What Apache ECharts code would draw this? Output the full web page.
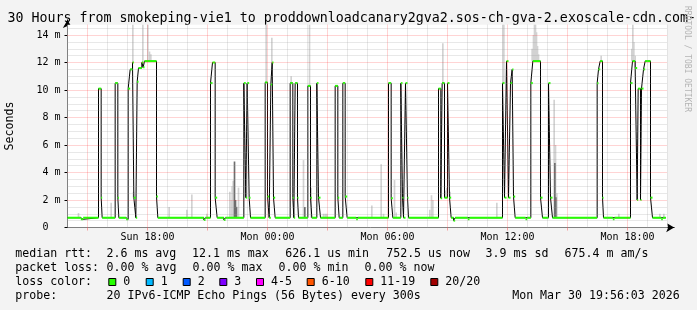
<!DOCTYPE html>
<html><head><meta charset="utf-8">
<script src="https://cdn.jsdelivr.net/npm/echarts@6/dist/echarts.min.js"></script>
<style>html,body{margin:0;padding:0;background:#f3f3f3}#c{width:697px;height:310px}</style>
</head><body><div id="c"></div>
<script>
// ---- DATA (x = minutes after Sun 14:00, y = milliseconds) ----
const xTickMinutes = [240, 600, 960, 1320, 1680];
const xTickLabels = ['Sun 18:00', 'Mon 00:00', 'Mon 06:00', 'Mon 12:00', 'Mon 18:00'];
const yTickValues = [0, 2, 4, 6, 8, 10, 12, 14];

// median rtt, step changes [minute, ms]
const medianSteps = [
  [0,0.71],[40,0.6],[47,0.71],
  [93,10.1],[101,2.17],[104,0.71],
  [143,10.5],[151,2.17],[154,0.71],
  [176,0.6],[182,10.1],[188,11.5],[195,12.0],[199,2.17],[205,0.71],[209,10.6],[213,11.6],[223,12.0],[227,11.65],[231,12.1],[267,2.25],[271,0.71],
  [409,0.55],[414,0.71],
  [429,10.5],[435,12.0],[443,2.17],[449,0.71],
  [469,0.55],[474,0.71],
  [529,10.5],[535,2.17],[539,10.5],[545,2.17],[549,0.71],
  [593,10.55],[600,2.25],[605,0.71],[610,10.4],[614,12.0],[618,2.17],[623,0.71],
  [668,10.5],[676,2.17],[679,0.71],[683,10.5],[690,2.17],[693,0.71],
  [721,10.3],[729,2.17],[733,0.71],
  [748,10.5],[753,2.17],[759,0.71],
  [803,10.3],[811,2.17],[815,0.71],
  [826,10.5],[833,2.25],[839,0.71],
  [866,0.6],[871,0.71],
  [963,10.5],[971,2.13],[976,0.71],
  [1000,10.5],[1005,2.17],[1008,0.71],[1014,10.5],[1020,2.17],[1023,0.71],
  [1113,10.1],[1120,2.13],[1124,10.5],[1131,2.17],[1140,10.5],[1146,2.17],[1151,0.71],
  [1158,0.5],[1163,0.71],
  [1201,0.6],[1206,0.71],
  [1305,10.5],[1311,2.17],[1317,12.1],[1323,2.17],[1329,10.5],[1334,11.5],[1338,2.25],[1343,0.71],
  [1374,0.6],[1379,0.71],
  [1390,10.5],[1396,12.1],[1419,2.17],[1425,0.71],
  [1443,10.5],[1449,2.17],[1455,0.71],
  [1589,10.5],[1593,11.5],[1598,12.1],[1605,2.17],[1608,0.71],
  [1636,0.6],[1641,0.71],
  [1689,10.5],[1695,12.1],[1703,11.6],[1709,2.0],[1712,10.1],[1719,2.0],[1722,10.1],[1728,11.5],[1733,12.1],[1749,2.17],[1755,0.71],
  [1781,0.6],[1786,0.71],[1795,0.71]
];

// smoke (ping spread) [minute, low ms, high ms]
const smokeLight = [
  [33,0.71,1.05],[131,0.71,1.8],
  [196,12.0,15.2],[198,2.17,2.6],[226,11.65,15.2],[241,12.1,15.2],[246,12.1,12.8],[250,12.1,12.6],
  [305,0.71,1.5],[358,0.71,1.3],[373,0.71,2.4],[418,0.71,1.0],
  [487,0.71,2.6],[491,0.71,2.0],[494,0.71,3.0],[497,0.71,3.4],[513,0.71,2.9],
  [596,10.55,15.2],[613,12.0,13.8],[671,10.5,11.0],
  [708,0.71,4.9],[726,10.3,15.2],[731,0.71,2.9],
  [768,0.71,1.0],[773,0.71,1.0],[778,0.71,1.0],
  [913,0.71,1.6],[941,0.71,4.6],[948,0.71,1.0],[981,0.71,3.45],[986,0.71,1.1],
  [1087,0.71,1.3],[1092,0.71,2.35],[1096,0.71,2.0],
  [1126,10.5,13.4],[1133,2.17,2.7],[1138,2.17,2.9],[1148,2.17,2.6],
  [1288,0.71,1.8],[1306,10.5,15.2],[1309,10.5,15.2],
  [1394,12.1,13.0],[1398,12.1,14.0],[1401,12.1,15.2],[1404,12.1,15.2],[1407,12.1,14.2],[1410,12.1,13.2],[1413,12.1,12.6],
  [1460,0.71,9.3],[1464,0.71,6.0],[1468,0.71,2.5],
  [1601,12.1,12.5],[1654,0.71,1.0],
  [1693,12.1,13.0],[1696,12.1,15.2],[1699,12.1,13.5],[1703,11.6,12.5],
  [1777,0.71,1.0],[1789,0.71,1.0]
];
const smokeDark = [
  [501,0.71,4.8],[504,0.71,2.0],[507,0.71,1.5],[712,0.71,1.5],[1462,0.71,4.7],[1465,0.71,2.2]
];

const lossLabels = ['0','1','2','3','4-5','6-10','11-19','20/20'];
const lossColors = ['#26ff00','#00b8ff','#0059ff','#7e00ff','#ff00ff','#ff5500','#ff0000','#a10000'];

const titleText = '30 Hours from smokeping-vie1 to proddownloadcanary2gva2.sos-ch-gva-2.exoscale-cdn.com-';
const rttStats = ['2.6 ms avg','12.1 ms max','626.1 us min','752.5 us now','3.9 ms sd','675.4 m am/s'];
const lossStats = ['0.00 % avg','0.00 % max','0.00 % min','0.00 % now'];
const probeText = '20 IPv6-ICMP Echo Pings (56 Bytes) every 300s';
const stampText = 'Mon Mar 30 19:56:03 2026';

// ---- LAYOUT / STYLE ----
const X_MAX = 1820, PLOT_END = 1800, Y_MAX = 15.1, PLOT_TOP = 14.75;
const MONO = '"DejaVu Sans Mono"';
const GRID_GRAY = 'rgba(150,150,150,0.45)';
const GRID_RED = 'rgba(255,40,40,0.4)';

const greenSegs = [];
for (let i = 0; i < medianSteps.length - 1; i++) {
  greenSegs.push([medianSteps[i][0], medianSteps[i + 1][0], medianSteps[i][1]]);
}

const gridLines = [];
for (let m = 60; m <= PLOT_END; m += 60) {
  gridLines.push([{coord: [m, 0], lineStyle: {color: (m % 180 === 60) ? GRID_RED : GRID_GRAY, type: 'dotted', width: 1}}, {coord: [m, PLOT_TOP]}]);
}
for (let k = 1; k <= 29; k++) {
  const v = k * 0.5;
  gridLines.push([{coord: [0, v], lineStyle: {color: (k % 4 === 0) ? GRID_RED : GRID_GRAY, type: 'dotted', width: 1}}, {coord: [PLOT_END, v]}]);
}

function smokeRender(color) {
  return function (params, api) {
    const m = api.value(0), lo = api.value(1), hi = Math.min(api.value(2), PLOT_TOP);
    const a = api.coord([m - 2.5, hi]);
    const b = api.coord([m + 2.5, lo]);
    return {type: 'rect', shape: {x: a[0], y: a[1], width: b[0] - a[0], height: b[1] - a[1]}, style: {fill: color}};
  };
}

const graphics = [];
function txt(text, x, y, size, color, extra) {
  graphics.push(Object.assign({type: 'text', x: x, y: y, silent: true,
    style: {text: text, font: size + 'px ' + MONO, fill: color || '#000', textAlign: 'left', textVerticalAlign: 'middle', verticalAlign: 'middle'}}, extra || {}));
}
txt(titleText, 7.5, 18.5, 13.3);
txt('Seconds', 10, 126, 11.6, '#000', {rotation: Math.PI / 2, style: {text: 'Seconds', font: '11.6px ' + MONO, fill: '#000', textAlign: 'center', textVerticalAlign: 'middle', verticalAlign: 'middle'}});
txt('RRDTOOL / TOBI OETIKER', 687, 59, 8, '#b4b4b4', {rotation: -Math.PI / 2, style: {text: 'RRDTOOL / TOBI OETIKER', font: '8px ' + MONO, fill: '#b4b4b4', textAlign: 'center', textVerticalAlign: 'middle', verticalAlign: 'middle'}});

const L1 = 254.3, L2 = 268.2, L3 = 282.1, L4 = 296;
const FS = 11.6;
txt('median rtt:', 15.3, L1, FS);
const rttX = [106.5, 192, 285.3, 386.2, 485.6, 564.6];
rttStats.forEach((s, i) => txt(s, rttX[i], L1, FS));
txt('packet loss:', 15.3, L2, FS);
const lossX = [106.6, 192.6, 278.6, 364.6];
lossStats.forEach((s, i) => txt(s, lossX[i], L2, FS));
txt('loss color:', 15.3, L3, FS);
const boxX = [108.3, 145.7, 182.7, 219.3, 256, 306.7, 365.3, 430.3];
lossLabels.forEach((s, i) => {
  graphics.push({type: 'rect', shape: {x: boxX[i] + 0.5, y: 278.5, width: 7, height: 7}, style: {fill: lossColors[i], stroke: '#000', lineWidth: 1}, silent: true});
  txt(s, boxX[i] + 15, L3, FS);
});
txt('probe:', 15.3, L4, FS);
txt(probeText, 106.6, L4, FS);
txt(stampText, 512.2, L4, FS);

const chart = echarts.init(document.getElementById('c'), null, {renderer: 'canvas', width: 697, height: 310});
chart.setOption({
  animation: false,
  backgroundColor: '#f3f3f3',
  grid: {left: 67.5, right: 697 - 67.5 - X_MAX / 3, top: 227.5 - Y_MAX * 13.75, bottom: 82.5},
  xAxis: {
    type: 'value', min: 0, max: X_MAX,
    axisLine: {show: true, lineStyle: {color: '#000', width: 1}, symbol: ['none', 'arrow'], symbolSize: [7, 8], symbolOffset: [0, 0]},
    axisTick: {show: true, customValues: [60,240,420,600,780,960,1140,1320,1500,1680], length: 3, lineStyle: {color: GRID_RED}},
    axisLabel: {customValues: xTickMinutes, formatter: v => xTickLabels[xTickMinutes.indexOf(v)] || '', fontFamily: MONO, fontSize: 10, color: '#000', margin: 5},
    splitLine: {show: false}
  },
  yAxis: {
    type: 'value', min: 0, max: Y_MAX,
    axisLine: {show: true, lineStyle: {color: '#000', width: 1}, symbol: ['none', 'arrow'], symbolSize: [7, 8]},
    axisTick: {show: true, customValues: yTickValues, length: 3, lineStyle: {color: '#000'}},
    axisLabel: {customValues: yTickValues, formatter: v => v === 0 ? '0  ' : v + ' m', fontFamily: MONO, fontSize: 10, color: '#000', margin: 7},
    splitLine: {show: false}
  },
  graphic: graphics,
  series: [
    {type: 'line', data: [], z: 0, silent: true,
      markArea: {silent: true, itemStyle: {color: '#ffffff'}, data: [[{coord: [0, 0]}, {coord: [PLOT_END, PLOT_TOP]}]]},
      markLine: {silent: true, symbol: ['none', 'none'], label: {show: false}, animation: false, data: gridLines}},
    {type: 'custom', data: smokeLight, renderItem: smokeRender('#d2d2d2'), encode: {x: 0, y: [1, 2]}, z: 2, silent: true},
    {type: 'custom', data: smokeDark, renderItem: smokeRender('#6e6e6e'), encode: {x: 0, y: [1, 2]}, z: 2, silent: true},
    {type: 'line', data: medianSteps, step: 'end', symbol: 'none', lineStyle: {color: '#000', width: 1}, z: 3, silent: true},
    {type: 'custom', data: greenSegs, encode: {x: [0, 1], y: 2}, z: 4, silent: true,
      renderItem: function (params, api) {
        const p0 = api.coord([api.value(0), api.value(2)]);
        const p1 = api.coord([api.value(1), api.value(2)]);
        return {type: 'line', shape: {x1: p0[0], y1: p0[1], x2: p1[0], y2: p1[1]}, style: {stroke: '#26ff00', lineWidth: 2}};
      }}
  ]
});
</script></body></html>
